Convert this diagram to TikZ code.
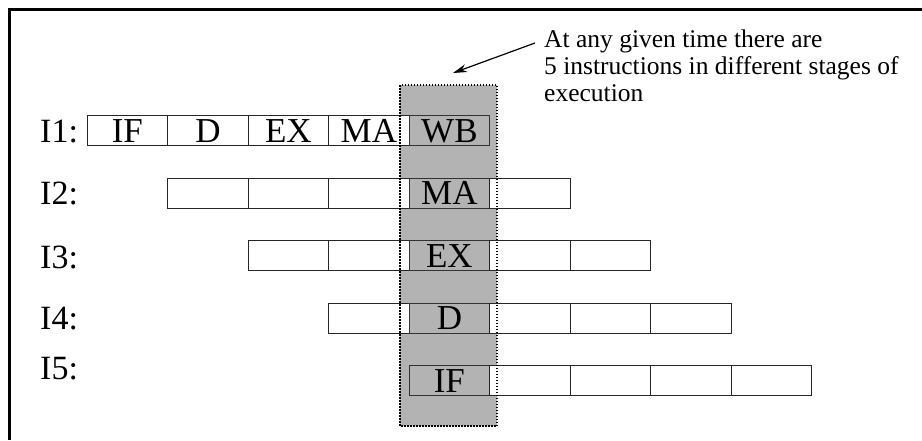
\documentclass[tikz,border=0pt]{standalone}
\usepackage{fontspec}
\setmainfont{Liberation Serif}
\usetikzlibrary{arrows.meta}
\definecolor{colshade}{HTML}{B3B3B3}
\tikzset{
 stagebox/.style={draw=black!85, line width=1.3pt, fill=white, minimum width=80.5pt, minimum height=30pt, inner sep=0pt, anchor=north west, font=\fontsize{35}{35}\selectfont, text height=23pt, text depth=0pt},
 hotbox/.style={stagebox, fill=colshade, draw=black!80},
 rowlabel/.style={anchor=west, inner sep=0pt, font=\fontsize{34}{34}\selectfont, text height=22.5pt, text depth=0pt},
 window/.style={draw=black, line width=1.5pt, dash pattern=on 1.5pt off 1.5pt},
 note/.style={anchor=north west, inner sep=0pt, align=left, font=\fontsize{25.5}{27}\selectfont},
 pointer/.style={draw=black, line width=1.2pt, -{Stealth[length=14pt,width=8pt]}},
 frame/.style={line width=2.5pt}
}
\begin{document}
\begin{tikzpicture}[x=1pt,y=-1pt]
\useasboundingbox (0,0) rectangle (922,440);
\draw[frame] (9.5,440) -- (9.5,9.5) -- (922,9.5);
\fill[colshade] (400,85) rectangle (497,426);
% row labels
\node[rowlabel] (l1) at (40,131) {I1:};
\node[rowlabel] (l2) at (40,193) {I2:};
\node[rowlabel] (l3) at (40,257) {I3:};
\node[rowlabel] (l4) at (40,318) {I4:};
\node[rowlabel] (l5) at (40,368) {I5:};
% row 1
\node[stagebox] (a1) at (86.5,115) {IF};
\node[stagebox] (a2) at (167,115) {D};
\node[stagebox] (a3) at (247.5,115) {EX};
\node[stagebox] (a4) at (328,115) {MA};
\node[hotbox] (a5) at (408.5,115) {WB};
% row 2
\node[stagebox] (b1) at (167,177.5) {};
\node[stagebox] (b2) at (247.5,177.5) {};
\node[stagebox] (b3) at (328,177.5) {};
\node[hotbox] (b4) at (408.5,177.5) {MA};
\node[stagebox] (b5) at (489,177.5) {};
% row 3
\node[stagebox] (c1) at (247.5,240) {};
\node[stagebox] (c2) at (328,240) {};
\node[hotbox] (c3) at (408.5,240) {EX};
\node[stagebox] (c4) at (489,240) {};
\node[stagebox] (c5) at (569.5,240) {};
% row 4
\node[stagebox] (d1) at (328,302.5) {};
\node[hotbox] (d2) at (408.5,302.5) {D};
\node[stagebox] (d3) at (489,302.5) {};
\node[stagebox] (d4) at (569.5,302.5) {};
\node[stagebox] (d5) at (650,302.5) {};
% row 5
\node[hotbox] (e1) at (408.5,365) {IF};
\node[stagebox] (e2) at (489,365) {};
\node[stagebox] (e3) at (569.5,365) {};
\node[stagebox] (e4) at (650,365) {};
\node[stagebox] (e5) at (730.5,365) {};
% window border
\draw[window] (400,85) rectangle (497,426);
% note
\node[note] (note) at (544,30) {At any given time there are\\5 instructions in different stages of\\execution};
\coordinate (tail) at (535,43);
\coordinate (tip) at (453,73);
\draw[pointer] (tail) -- (tip);
\end{tikzpicture}
\end{document}
